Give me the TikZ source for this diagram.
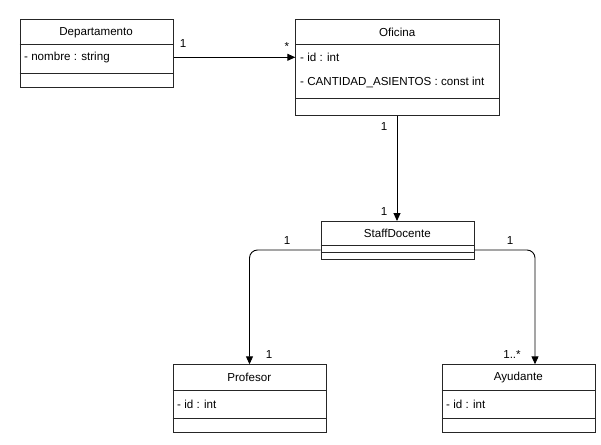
\documentclass[tikz,border=0pt]{standalone}
\usepackage{fontspec}
\setmainfont{Liberation Sans}
\usetikzlibrary{arrows.meta}
\begin{document}
\begin{tikzpicture}[x=1pt,y=-1pt,
  cls/.style={draw=black!85, line width=0.9pt, rectangle, inner sep=0pt, anchor=north west},
  sep/.style={draw=black!85, line width=0.9pt},
  title/.style={inner sep=0pt, font=\fontsize{11.6}{13}\selectfont},
  attr/.style={inner sep=0pt, anchor=west, font=\fontsize{11.6}{13}\selectfont},
  mult/.style={inner sep=0pt, font=\fontsize{11.6}{13}\selectfont},
  assoc/.style={draw=black, line width=0.9pt, -{Triangle[length=8pt,width=7pt]}}]
\useasboundingbox (0,0) rectangle (601,444);

% Departamento
\node[cls, minimum width=153.2pt, minimum height=67pt] (dep) at (19.5,19.5) {};
\node[title] (deptitle) at (96.1,32.3) {Departamento};
\draw[sep] (19.5,44) -- (172.7,44);
\node[attr] (depattr) at (24,57.3) {- nombre : string};
\draw[sep] (19.5,73.3) -- (172.7,73.3);

% Oficina
\node[cls, minimum width=203.7pt, minimum height=95.8pt] (ofi) at (295.3,19.5) {};
\node[title] (ofititle) at (397.2,32.3) {Oficina};
\draw[sep] (295.3,44) -- (499,44);
\node[attr] (ofiid) at (300,57.3) {- id : int};
\node[attr] (oficant) at (300,82) {- CANTIDAD\_ASIENTOS : const int};
\draw[sep] (295.3,98.3) -- (499,98.3);

% StaffDocente
\node[cls, minimum width=153.3pt, minimum height=38pt] (staff) at (320.7,221) {};
\node[title] (stafftitle) at (397.3,233.3) {StaffDocente};
\draw[sep] (320.7,245.7) -- (474,245.7);
\draw[sep] (320.7,252.3) -- (474,252.3);

% Profesor
\node[cls, minimum width=153.3pt, minimum height=67.7pt] (prof) at (172.7,364.3) {};
\node[title] (proftitle) at (249.3,377.7) {Profesor};
\draw[sep] (172.7,390) -- (326,390);
\node[attr] (profattr) at (177,404) {- id : int};
\draw[sep] (172.7,418.7) -- (326,418.7);

% Ayudante
\node[cls, minimum width=153.3pt, minimum height=67.7pt] (ayu) at (441.7,364.3) {};
\node[title] (ayutitle) at (518.3,377.7) {Ayudante};
\draw[sep] (441.7,390) -- (595,390);
\node[attr] (ayuattr) at (446,404) {- id : int};
\draw[sep] (441.7,418.7) -- (595,418.7);

% connectors
\coordinate (c1) at (397,0);
\coordinate (cy) at (0,250);
\coordinate (cpx) at (249.5,0);
\coordinate (cax) at (535,0);
\draw[assoc] (dep.east |- depattr) -- (ofi.west |- depattr);
\draw[assoc] (ofi.south -| c1) -- (staff.north -| c1);
\draw[assoc, rounded corners=8pt] (staff.west |- cy) -| (prof.north -| cpx);
\draw[assoc, rounded corners=8pt] (staff.east |- cy) -| (ayu.north -| cax);

% multiplicities
\node[mult] (m1) at (183,44) {1};
\node[mult] (m2) at (287,47) {*};
\node[mult] (m3) at (384,127) {1};
\node[mult] (m4) at (384,212) {1};
\node[mult] (m5) at (287,241) {1};
\node[mult] (m6) at (269,355) {1};
\node[mult] (m7) at (510,241) {1};
\node[mult] (m8) at (512,355) {1..*};
\end{tikzpicture}
\end{document}
